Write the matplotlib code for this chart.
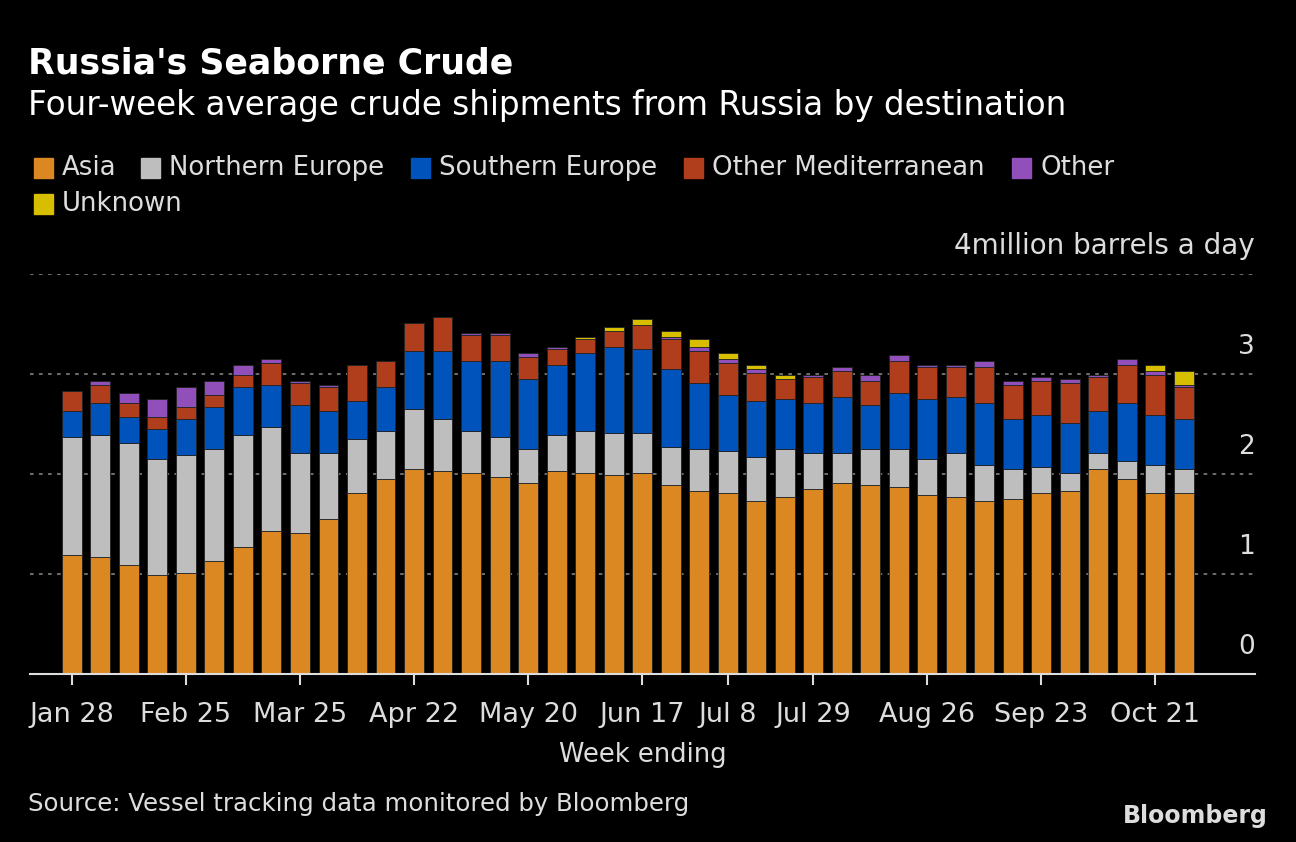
import numpy as np
import matplotlib.pyplot as plt
from matplotlib.patches import Rectangle

# cumulative stack tops (million barrels a day), 40 weeks Jan 28 - Oct 28
top_asia = [1.19,1.17,1.09,0.99,1.01,1.13,1.27,1.43,1.41,1.55,1.81,1.95,2.05,2.03,2.01,1.97,1.91,2.03,2.01,1.99,
            2.01,1.89,1.83,1.81,1.73,1.77,1.85,1.91,1.89,1.87,1.79,1.77,1.73,1.75,1.81,1.83,2.05,1.95,1.81,1.81]
top_north = [2.37,2.39,2.31,2.15,2.19,2.25,2.39,2.47,2.21,2.21,2.35,2.43,2.65,2.55,2.43,2.37,2.25,2.39,2.43,2.41,
             2.41,2.27,2.25,2.23,2.17,2.25,2.21,2.21,2.25,2.25,2.15,2.21,2.09,2.05,2.07,2.01,2.21,2.13,2.09,2.05]
top_south = [2.63,2.71,2.57,2.45,2.55,2.67,2.87,2.89,2.69,2.63,2.73,2.87,3.23,3.23,3.13,3.13,2.95,3.09,3.21,3.27,
             3.25,3.05,2.91,2.79,2.73,2.75,2.71,2.77,2.69,2.81,2.75,2.77,2.71,2.55,2.59,2.51,2.63,2.71,2.59,2.55]
top_med = [2.83,2.89,2.71,2.57,2.67,2.79,2.99,3.11,2.91,2.87,3.09,3.13,3.51,3.57,3.39,3.39,3.17,3.25,3.35,3.43,
           3.49,3.35,3.23,3.11,3.01,2.95,2.97,3.03,2.93,3.13,3.07,3.07,3.07,2.89,2.93,2.91,2.97,3.09,2.99,2.87]
top_other = [2.83,2.93,2.81,2.75,2.87,2.93,3.09,3.15,2.93,2.89,3.09,3.13,3.51,3.57,3.41,3.41,3.21,3.27,3.35,3.43,
             3.49,3.37,3.27,3.15,3.05,2.95,2.99,3.07,2.99,3.19,3.09,3.09,3.13,2.93,2.97,2.95,2.99,3.15,3.03,2.89]
top_unknown = [2.83,2.93,2.81,2.75,2.87,2.93,3.09,3.15,2.93,2.89,3.09,3.13,3.51,3.57,3.41,3.41,3.21,3.27,3.37,3.47,
               3.55,3.43,3.35,3.21,3.09,2.99,2.99,3.07,2.99,3.19,3.09,3.09,3.13,2.93,2.97,2.95,2.99,3.15,3.09,3.03]

series = ["Asia", "Northern Europe", "Southern Europe", "Other Mediterranean", "Other", "Unknown"]
colors = ["#DB8823", "#BEBEBE", "#0053BA", "#B03E1C", "#9150B9", "#D8BE00"]
tick_pos = [0, 4, 8, 12, 16, 20, 23, 26, 30, 34, 38]
tick_labels = ["Jan 28", "Feb 25", "Mar 25", "Apr 22", "May 20", "Jun 17", "Jul 8", "Jul 29", "Aug 26", "Sep 23", "Oct 21"]

tops = np.array([top_asia, top_north, top_south, top_med, top_other, top_unknown])
bottoms = np.vstack([np.zeros(tops.shape[1]), tops[:-1]])
x = np.arange(tops.shape[1])

plt.rcParams['font.family'] = 'DejaVu Sans'
fig = plt.figure(figsize=(12.96, 8.42), dpi=100, facecolor='black')
W, H = 1296, 842
ax = fig.add_axes([30 / W, 1 - 674 / H, (1255 - 30) / W, 400 / H], facecolor='black')

for i in range(len(series)):
    ax.bar(x, tops[i] - bottoms[i], bottom=bottoms[i], width=0.7, color=colors[i],
           edgecolor='#222222', linewidth=0.6)

ax.set_xlim(-1.47, 41.5)
ax.set_ylim(0, 4)
for v in [1, 2, 3, 4]:
    ax.axhline(v, color='#777777', lw=1.3, ls=(0, (2, 3)), zorder=0)
for v in [0, 1, 2, 3]:
    ax.text(1.0, v + 0.27, str(v), transform=ax.get_yaxis_transform(), ha='right', va='center',
            color='#dddddd', fontsize=19)
ax.text(1.0, 4.28, "4million barrels a day", transform=ax.get_yaxis_transform(), ha='right',
        va='center', color='#dddddd', fontsize=20)
ax.set_yticks([])
for s in ['left', 'right', 'top']:
    ax.spines[s].set_visible(False)
ax.spines['bottom'].set_color('#dddddd')
ax.spines['bottom'].set_linewidth(1.5)
ax.set_xticks(tick_pos)
ax.set_xticklabels(tick_labels)
ax.tick_params(axis='x', colors='#dddddd', labelsize=19.5, length=8, width=1.5, pad=12)
ax.set_xlabel("Week ending", color='#dddddd', fontsize=18.5, labelpad=10)

fig.text(28 / W, 1 - 63 / H, "Russia's Seaborne Crude", color='white', fontsize=25, fontweight='heavy', va='center')
fig.text(28 / W, 1 - 105 / H, "Four-week average crude shipments from Russia by destination", color='white',
         fontsize=23.5, va='center')

leg_x = [34, 141, 411, 684, 1012, 34]
leg_y = [168, 168, 168, 168, 168, 204]
for i, name in enumerate(series):
    fig.patches.append(Rectangle((leg_x[i] / W, 1 - (leg_y[i] + 10) / H), 19 / W, 20 / H,
                                 transform=fig.transFigure, color=colors[i]))
    fig.text((leg_x[i] + 28) / W, 1 - leg_y[i] / H, name, color='#dddddd', fontsize=18.7, va='center')

fig.text(28 / W, 1 - 804 / H, "Source: Vessel tracking data monitored by Bloomberg", color='#dddddd',
         fontsize=17.6, va='center')
fig.text(1268 / W, 1 - 816 / H, "Bloomberg", color='#dddddd', fontsize=17, fontweight='bold',
         ha='right', va='center')

fig.savefig("out.png", dpi=100, facecolor='black')
